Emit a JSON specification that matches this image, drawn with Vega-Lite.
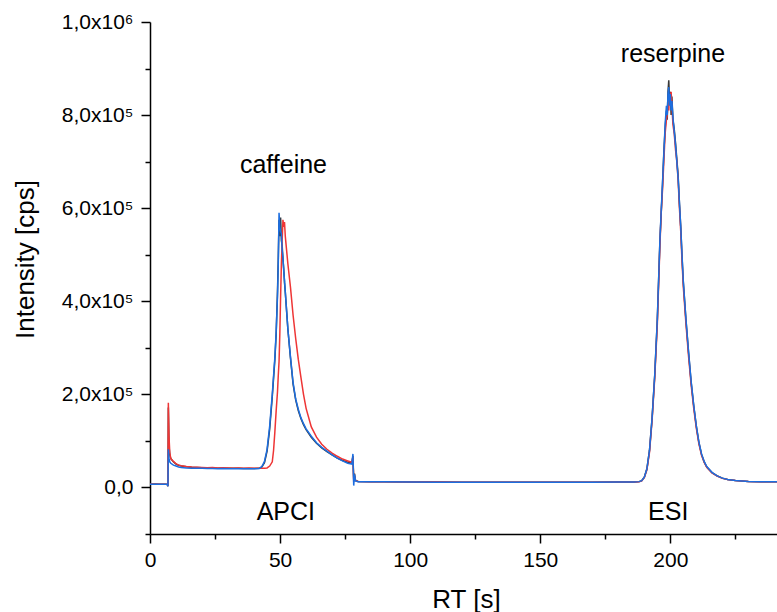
{
  "$schema": "https://vega.github.io/schema/vega-lite/v6.json",
  "width": 627,
  "height": 512,
  "autosize": {"type": "none"},
  "padding": {"left": 150, "top": 22, "right": 0, "bottom": 78},
  "background": "white",
  "config": {
    "view": {"stroke": null},
    "font": "Liberation Sans",
    "axis": {
      "grid": false,
      "domainColor": "black",
      "domainWidth": 1.5,
      "tickColor": "black",
      "tickWidth": 1.5,
      "labelColor": "black",
      "titleColor": "black",
      "labelFont": "Liberation Sans",
      "titleFont": "Liberation Sans",
      "labelFontSize": 21,
      "titleFontSize": 26,
      "titleFontWeight": "normal"
    }
  },
  "datasets": {
    "chrom": [
      {"t": 0, "k": 7000, "r": 7000, "b": 7000},
      {"t": 2, "k": 7200, "r": 7000, "b": 7100},
      {"t": 4, "k": 7000, "r": 7100, "b": 7000},
      {"t": 6, "k": 7100, "r": 7000, "b": 7000},
      {"t": 6.7, "k": 6500, "r": 6600, "b": 6600},
      {"t": 6.9, "k": 2500, "r": 3000, "b": 2500},
      {"t": 7.05, "k": 172000, "r": 182000, "b": 82000},
      {"t": 7.3, "k": 90000, "r": 110000, "b": 62000},
      {"t": 7.6, "k": 70000, "r": 75000, "b": 55000},
      {"t": 8, "k": 62000, "r": 62000, "b": 52000},
      {"t": 9, "k": 55000, "r": 56000, "b": 48000},
      {"t": 10, "k": 50000, "r": 51000, "b": 46000},
      {"t": 11, "k": 47500, "r": 48000, "b": 44000},
      {"t": 12, "k": 46000, "r": 46500, "b": 43000},
      {"t": 14, "k": 44500, "r": 45000, "b": 42000},
      {"t": 16, "k": 43500, "r": 44000, "b": 41500},
      {"t": 18, "k": 43000, "r": 43500, "b": 41000},
      {"t": 20, "k": 42500, "r": 43000, "b": 41000},
      {"t": 22, "k": 42000, "r": 42500, "b": 40500},
      {"t": 24, "k": 42000, "r": 43000, "b": 40500},
      {"t": 26, "k": 41500, "r": 42000, "b": 40000},
      {"t": 28, "k": 41500, "r": 42500, "b": 40500},
      {"t": 30, "k": 41000, "r": 42000, "b": 40000},
      {"t": 32, "k": 41000, "r": 41500, "b": 40000},
      {"t": 34, "k": 41000, "r": 42000, "b": 40000},
      {"t": 36, "k": 40500, "r": 41500, "b": 40000},
      {"t": 38, "k": 40500, "r": 42000, "b": 40000},
      {"t": 40, "k": 40500, "r": 41500, "b": 40000},
      {"t": 42, "k": 41000, "r": 41000, "b": 40500},
      {"t": 43, "k": 44000, "r": 41000, "b": 45000},
      {"t": 44, "k": 53000, "r": 41500, "b": 56000},
      {"t": 45, "k": 78000, "r": 42000, "b": 82000},
      {"t": 46, "k": 125000, "r": 46000, "b": 132000},
      {"t": 47, "k": 195000, "r": 55000, "b": 200000},
      {"t": 47.5, "k": 235000, "r": 80000, "b": 240000},
      {"t": 48, "k": 275000, "r": 120000, "b": 280000},
      {"t": 48.5, "k": 330000, "r": 165000, "b": 335000},
      {"t": 49, "k": 420000, "r": 205000, "b": 410000},
      {"t": 49.3, "k": 490000, "r": 240000, "b": 480000},
      {"t": 49.6, "k": 575000, "r": 270000, "b": 590000},
      {"t": 49.9, "k": 540000, "r": 330000, "b": 560000},
      {"t": 50.2, "k": 580000, "r": 410000, "b": 550000},
      {"t": 50.5, "k": 530000, "r": 480000, "b": 545000},
      {"t": 50.8, "k": 520000, "r": 530000, "b": 510000},
      {"t": 51.1, "k": 490000, "r": 575000, "b": 495000},
      {"t": 51.4, "k": 470000, "r": 560000, "b": 465000},
      {"t": 51.7, "k": 440000, "r": 570000, "b": 445000},
      {"t": 52, "k": 420000, "r": 540000, "b": 420000},
      {"t": 52.5, "k": 380000, "r": 510000, "b": 380000},
      {"t": 53, "k": 340000, "r": 480000, "b": 340000},
      {"t": 54, "k": 278000, "r": 430000, "b": 280000},
      {"t": 55, "k": 222000, "r": 370000, "b": 225000},
      {"t": 56, "k": 188000, "r": 320000, "b": 190000},
      {"t": 57, "k": 165000, "r": 275000, "b": 168000},
      {"t": 58, "k": 148000, "r": 237000, "b": 150000},
      {"t": 59, "k": 135000, "r": 200000, "b": 137000},
      {"t": 60, "k": 124000, "r": 170000, "b": 126000},
      {"t": 62, "k": 108000, "r": 130000, "b": 110000},
      {"t": 64, "k": 95000, "r": 108000, "b": 96000},
      {"t": 66, "k": 85000, "r": 93000, "b": 86000},
      {"t": 68, "k": 77000, "r": 82000, "b": 78000},
      {"t": 70, "k": 70000, "r": 74000, "b": 70000},
      {"t": 72, "k": 63000, "r": 67000, "b": 63000},
      {"t": 74, "k": 58000, "r": 61000, "b": 57000},
      {"t": 76, "k": 54000, "r": 57000, "b": 52000},
      {"t": 77.6, "k": 52000, "r": 54000, "b": 50000},
      {"t": 78, "k": 68000, "r": 66000, "b": 72000},
      {"t": 78.3, "k": 18000, "r": 12000, "b": 4000},
      {"t": 78.6, "k": 30000, "r": 25000, "b": 28000},
      {"t": 79, "k": 15000, "r": 14500, "b": 14000},
      {"t": 80, "k": 13000, "r": 13000, "b": 12500},
      {"t": 85, "k": 12500, "r": 12500, "b": 12000},
      {"t": 90, "k": 12000, "r": 12000, "b": 12000},
      {"t": 100, "k": 11500, "r": 11500, "b": 11500},
      {"t": 110, "k": 11500, "r": 11500, "b": 11000},
      {"t": 120, "k": 11000, "r": 11000, "b": 11000},
      {"t": 130, "k": 11000, "r": 11000, "b": 11000},
      {"t": 140, "k": 11000, "r": 11000, "b": 11000},
      {"t": 150, "k": 11000, "r": 11000, "b": 11000},
      {"t": 160, "k": 11000, "r": 11000, "b": 11000},
      {"t": 170, "k": 11000, "r": 11000, "b": 11000},
      {"t": 180, "k": 11500, "r": 11500, "b": 11500},
      {"t": 186, "k": 11500, "r": 11500, "b": 11500},
      {"t": 188, "k": 12500, "r": 12000, "b": 12500},
      {"t": 189, "k": 14500, "r": 14000, "b": 14500},
      {"t": 190, "k": 22000, "r": 21000, "b": 22000},
      {"t": 191, "k": 40000, "r": 38000, "b": 40000},
      {"t": 192, "k": 80000, "r": 76000, "b": 80000},
      {"t": 193, "k": 150000, "r": 145000, "b": 150000},
      {"t": 194, "k": 240000, "r": 235000, "b": 242000},
      {"t": 195, "k": 360000, "r": 350000, "b": 362000},
      {"t": 196, "k": 530000, "r": 520000, "b": 532000},
      {"t": 196.5, "k": 590000, "r": 590000, "b": 595000},
      {"t": 197, "k": 650000, "r": 640000, "b": 655000},
      {"t": 197.5, "k": 720000, "r": 700000, "b": 715000},
      {"t": 198, "k": 770000, "r": 760000, "b": 780000},
      {"t": 198.5, "k": 810000, "r": 790000, "b": 820000},
      {"t": 198.8, "k": 790000, "r": 800000, "b": 800000},
      {"t": 199.1, "k": 850000, "r": 830000, "b": 845000},
      {"t": 199.4, "k": 875000, "r": 810000, "b": 860000},
      {"t": 199.7, "k": 830000, "r": 845000, "b": 820000},
      {"t": 200, "k": 850000, "r": 840000, "b": 845000},
      {"t": 200.3, "k": 800000, "r": 850000, "b": 810000},
      {"t": 200.6, "k": 840000, "r": 820000, "b": 830000},
      {"t": 201, "k": 790000, "r": 780000, "b": 795000},
      {"t": 201.5, "k": 770000, "r": 760000, "b": 765000},
      {"t": 202, "k": 740000, "r": 725000, "b": 735000},
      {"t": 202.5, "k": 705000, "r": 700000, "b": 700000},
      {"t": 203, "k": 670000, "r": 660000, "b": 665000},
      {"t": 203.5, "k": 610000, "r": 600000, "b": 612000},
      {"t": 204, "k": 560000, "r": 550000, "b": 560000},
      {"t": 204.5, "k": 495000, "r": 485000, "b": 498000},
      {"t": 205, "k": 440000, "r": 430000, "b": 442000},
      {"t": 206, "k": 360000, "r": 352000, "b": 362000},
      {"t": 207, "k": 290000, "r": 282000, "b": 292000},
      {"t": 208, "k": 226000, "r": 220000, "b": 228000},
      {"t": 209, "k": 175000, "r": 170000, "b": 176000},
      {"t": 210, "k": 131000, "r": 127000, "b": 132000},
      {"t": 211, "k": 96000, "r": 93000, "b": 97000},
      {"t": 212, "k": 71000, "r": 69000, "b": 72000},
      {"t": 213, "k": 55000, "r": 54000, "b": 56000},
      {"t": 214, "k": 44000, "r": 43000, "b": 45000},
      {"t": 216, "k": 32000, "r": 31000, "b": 32500},
      {"t": 218, "k": 25000, "r": 24500, "b": 25000},
      {"t": 220, "k": 20000, "r": 19500, "b": 20000},
      {"t": 222, "k": 17000, "r": 17000, "b": 17000},
      {"t": 225, "k": 15000, "r": 15000, "b": 15000},
      {"t": 230, "k": 13000, "r": 13000, "b": 13000},
      {"t": 235, "k": 12500, "r": 12500, "b": 12500},
      {"t": 241, "k": 12000, "r": 12000, "b": 12000}
    ],
    "labels": [
      {"t": 51.3, "v": 675000, "label": "caffeine"},
      {"t": 201, "v": 915000, "label": "reserpine"},
      {"t": 52.2, "v": -69500, "label": "APCI"},
      {"t": 199.2, "v": -69500, "label": "ESI"}
    ]
  },
  "encoding": {
    "x": {
      "field": "t",
      "type": "quantitative",
      "scale": {"domain": [0, 241], "nice": false, "zero": false},
      "axis": {
        "title": "RT [s]",
        "values": [0, 25, 50, 75, 100, 125, 150, 175, 200, 225],
        "labelExpr": "datum.value % 50 == 0 ? datum.label : ''",
        "tickSize": {"condition": {"test": "datum.value % 50 != 0", "value": 5}, "value": 9},
        "labelPadding": 6,
        "labelFlush": false,
        "titleX": 316,
        "titleY": 73,
        "titleBaseline": "alphabetic",
        "titleAlign": "center"
      }
    }
  },
  "layer": [
    {
      "data": {"name": "chrom"},
      "mark": {"type": "line", "color": "#383838", "strokeWidth": 1.5, "clip": true},
      "encoding": {
        "y": {
          "field": "k",
          "type": "quantitative",
          "scale": {"domain": [-100000, 1000000], "nice": false, "zero": false},
          "axis": {
            "title": "Intensity [cps]",
            "values": [-100000, 0, 100000, 200000, 300000, 400000, 500000, 600000, 700000, 800000, 900000, 1000000],
            "labelExpr": "datum.value == 1000000 ? '1,0x10⁶' : datum.value == 800000 ? '8,0x10⁵' : datum.value == 600000 ? '6,0x10⁵' : datum.value == 400000 ? '4,0x10⁵' : datum.value == 200000 ? '2,0x10⁵' : datum.value == 0 ? '0,0' : ''",
            "tickSize": {"condition": {"test": "datum.value % 200000 != 0", "value": 5}, "value": 9},
            "labelPadding": 8,
            "titleAngle": -90,
            "titleX": -117,
            "titleY": 237,
            "titleBaseline": "alphabetic",
            "titleAlign": "center"
          }
        }
      }
    },
    {
      "data": {"name": "chrom"},
      "mark": {"type": "line", "color": "#ee3535", "strokeWidth": 1.5, "clip": true},
      "encoding": {"y": {"field": "r", "type": "quantitative"}}
    },
    {
      "data": {"name": "chrom"},
      "mark": {"type": "line", "color": "#1c6ee0", "strokeWidth": 1.5, "clip": true},
      "encoding": {"y": {"field": "b", "type": "quantitative"}}
    },
    {
      "data": {"name": "labels"},
      "mark": {"type": "text", "fontSize": 25, "font": "Liberation Sans", "color": "black", "align": "center", "baseline": "alphabetic"},
      "encoding": {
        "y": {"field": "v", "type": "quantitative"},
        "text": {"field": "label", "type": "nominal"}
      }
    }
  ]
}
